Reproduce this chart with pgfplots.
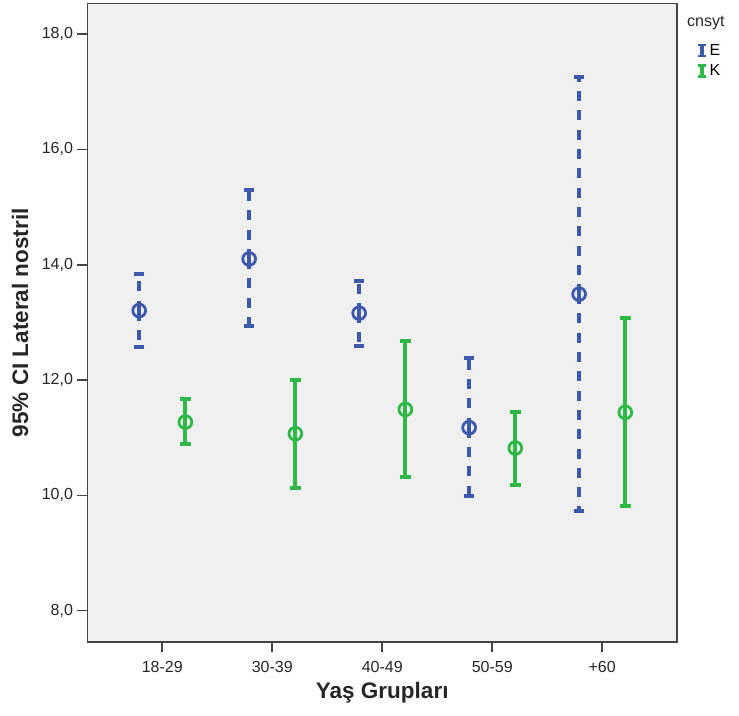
\documentclass[border=0pt]{standalone}
\usepackage{fontspec}
\setmainfont{Liberation Sans}
\usepackage{pgfplots}
\usepackage{pgfplotstable}
\pgfplotsset{compat=1.18}
\usetikzlibrary{calc}

\definecolor{spssblue}{HTML}{3E58AC}
\definecolor{spssgreen}{HTML}{2EB848}
\definecolor{panel}{HTML}{F0F0F0}
\definecolor{frame}{HTML}{444444}

% 95% CI of lateral nostril by age group: lower bound, mean, upper bound
\pgfplotstableread{
x     lo     m       hi
-0.21 12.57  13.205  13.84
0.79  12.93  14.10   15.29
1.79  12.59  13.16   13.71
2.79  9.99   11.175  12.38
3.79  9.73   13.49   17.25
}\tblE
\pgfplotstableread{
x     lo     m       hi
0.21  10.89  11.27   11.67
1.21  10.12  11.07   12.00
2.21  10.31  11.49   12.67
3.21  10.18  10.82   11.45
4.21  9.82   11.44   13.07
}\tblK

\begin{document}
\begin{tikzpicture}
\begin{axis}[
  name=ax,
  scale only axis,
  width=589.5pt, height=638.5pt,
  xmin=-0.68, xmax=4.68,
  ymin=7.457, ymax=18.53,
  axis background/.style={fill=panel},
  axis line style={draw=frame, line width=1.4pt},
  xtick={0,1,2,3,4},
  xticklabels={18-29,30-39,40-49,50-59,+60},
  ytick={8,10,12,14,16,18},
  xtick pos=bottom, ytick pos=left,
  tick align=outside,
  major tick length=10pt,
  tick style={draw=frame, line width=1.6pt},
  /pgf/number format/.cd, fixed, fixed zerofill, precision=1, use comma, assume math mode=true,
  /pgfplots/.cd,
  ticklabel style={font=\fontsize{16}{19}\selectfont, text=black!85},
  yticklabel style={xshift=-1pt},
  xticklabel style={yshift=-6pt},
  xlabel={Yaş Grupları},
  ylabel={95\% CI Lateral nostril},
  label style={font=\bfseries\fontsize{22.5}{26}\selectfont, text=black!85},
  xlabel style={at={(axis description cs:0.5,-0.08)}, anchor=center},
  ylabel style={at={(axis description cs:-0.1145,0.5)}, anchor=center},
  legend style={draw=none, fill=none, at={(axis description cs:1.034,0.94)}, anchor=north west,
    font=\fontsize{16}{19}\selectfont, inner sep=0pt, row sep=4pt,
    /tikz/every even column/.append style={column sep=4pt}},
  legend cell align=left,
]
% cluster E: dashed intervals
\addplot[forget plot, only marks, mark=o, mark size=6.4pt, mark options={draw=spssblue, line width=2.8pt, fill=none},
  error bars/.cd, y dir=both, y explicit,
  error bar style={draw=spssblue, line width=4pt, dash pattern=on 10pt off 9.3pt},
  error mark options={solid, line width=4pt, mark size=5pt, draw=spssblue, rotate=90}]
  table[x=x, y=m, y error plus expr=\thisrow{hi}-\thisrow{m}, y error minus expr=\thisrow{m}-\thisrow{lo}] {\tblE};
% cluster K: solid intervals
\addplot[forget plot, only marks, mark=o, mark size=6.4pt, mark options={draw=spssgreen, line width=2.8pt, fill=none},
  error bars/.cd, y dir=both, y explicit,
  error bar style={draw=spssgreen, line width=4pt},
  error mark options={solid, line width=4pt, mark size=5.5pt, draw=spssgreen, rotate=90}]
  table[x=x, y=m, y error plus expr=\thisrow{hi}-\thisrow{m}, y error minus expr=\thisrow{m}-\thisrow{lo}] {\tblK};

\addlegendimage{legend image code/.code={
  \draw[spssblue, line width=4pt] (4pt,-6pt)--(4pt,6pt);
  \draw[spssblue, line width=2.5pt] (0pt,-5.5pt)--(8pt,-5.5pt) (0pt,5.5pt)--(8pt,5.5pt);}}
\addlegendentry{E}
\addlegendimage{legend image code/.code={
  \draw[spssgreen, line width=4pt] (4pt,-6pt)--(4pt,6pt);
  \draw[spssgreen, line width=2.5pt] (0pt,-5.5pt)--(8pt,-5.5pt) (0pt,5.5pt)--(8pt,5.5pt);}}
\addlegendentry{K}
\end{axis}
\node[anchor=west, font=\fontsize{16}{19}\selectfont, text=black!85, inner sep=0pt]
  at ($(ax.north east)+(10pt,-20pt)$) {cnsyt};
% page frame
\path (ax.south west) ++(-87.5pt,-74pt) coordinate (bl);
\path (ax.north east) ++(62pt,3.5pt) coordinate (tr);
\path (bl) rectangle (tr);
\end{tikzpicture}
\end{document}
